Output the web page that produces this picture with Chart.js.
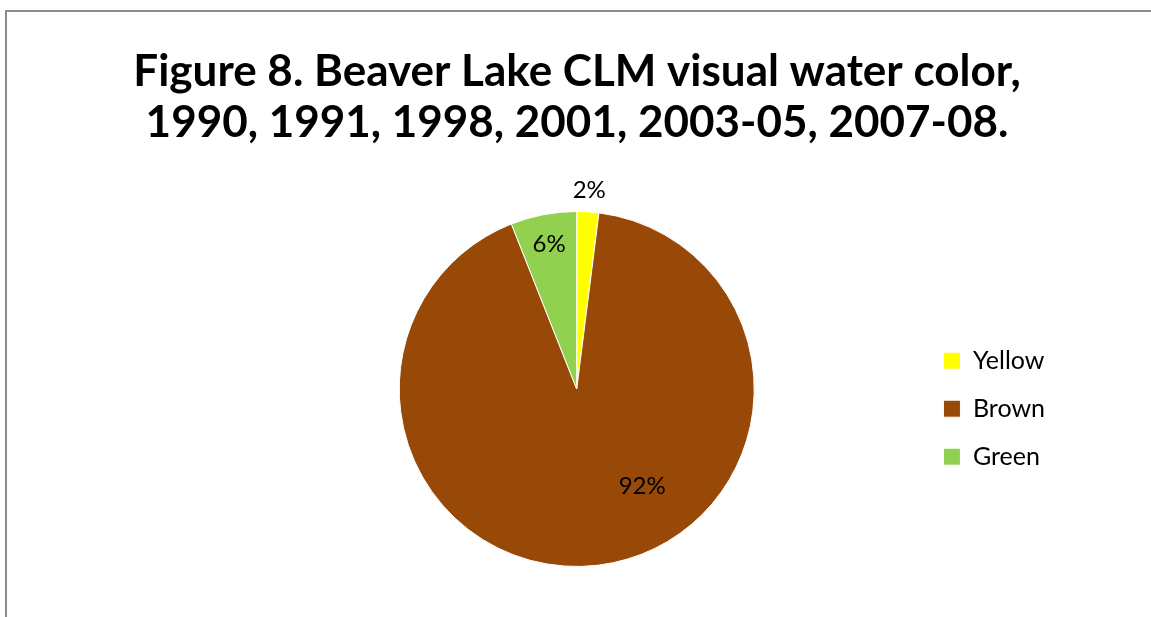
<!DOCTYPE html>
<html>
<head>
<meta charset="utf-8">
<script src="https://cdn.jsdelivr.net/npm/chart.js@4"></script>
<style>
  html, body { margin: 0; padding: 0; background: #fff; }
  #wrap { position: relative; width: 1151px; height: 617px; }
</style>
</head>
<body>
<div id="wrap"><canvas id="pieCanvas"></canvas></div>
<script>
var categories = ["Yellow", "Brown", "Green"];
var shares = [2, 92, 6];
var sliceColors = ["#FFFF00", "#984807", "#92D050"];
var titleLines = ["Figure 8. Beaver Lake CLM visual water color,", "1990, 1991, 1998, 2001, 2003-05, 2007-08."];

// where each percent label sits: fraction of radius, optional fixed angle (deg clockwise from top)
var labelSpots = [{ r: 1.12 }, { r: 0.66, deg: 146 }, { r: 0.83 }];

var frameBorder = {
    id: 'frameBorder',
    beforeDraw: function (chart) {
        var ctx = chart.ctx;
        ctx.save();
        ctx.strokeStyle = '#8c8c8c';
        ctx.lineWidth = 2;
        ctx.beginPath();
        ctx.moveTo(6, chart.height);
        ctx.lineTo(6, 11);
        ctx.lineTo(chart.width, 11);
        ctx.stroke();
        ctx.restore();
    }
};

// title centred on the whole canvas (built-in title would follow the layout padding)
var fullTitle = {
    id: 'fullTitle',
    afterDraw: function (chart) {
        var ctx = chart.ctx;
        ctx.save();
        ctx.font = 'bold 44px Lato';
        ctx.fillStyle = '#000';
        ctx.textAlign = 'center';
        ctx.textBaseline = 'middle';
        titleLines.forEach(function (line, i) {
            ctx.fillText(line, 577, 72 + i * 51);
        });
        ctx.restore();
    }
};

var pctLabels = {
    id: 'pctLabels',
    afterDatasetsDraw: function (chart) {
        var ctx = chart.ctx;
        var arcs = chart.getDatasetMeta(0).data;
        ctx.save();
        ctx.font = '24px Lato';
        ctx.fillStyle = '#000';
        ctx.textAlign = 'center';
        ctx.textBaseline = 'middle';
        arcs.forEach(function (arc, i) {
            var spot = labelSpots[i];
            var ang = (arc.startAngle + arc.endAngle) / 2;
            if (spot.deg !== undefined) ang = spot.deg * Math.PI / 180 - Math.PI / 2;
            var rr = arc.outerRadius * spot.r;
            ctx.fillText(shares[i] + '%', arc.x + Math.cos(ang) * rr, arc.y + Math.sin(ang) * rr);
        });
        ctx.restore();
    }
};

var ctx = document.getElementById('pieCanvas').getContext('2d');
var pieChart = new Chart(ctx, {
    type: 'pie',
    data: {
        labels: categories,
        datasets: [{
            data: shares,
            backgroundColor: sliceColors,
            borderColor: '#ffffff',
            borderWidth: 1
        }]
    },
    options: {
        responsive: true,
        maintainAspectRatio: false,
        animation: false,
        layout: { padding: { left: 233, right: 96, top: 211, bottom: 50 } },
        plugins: {
            title: { display: false },
            legend: {
                position: 'right',
                title: { display: true, text: ' ', padding: { top: 25, bottom: 0 }, font: { size: 12 } },
                labels: {
                    color: '#000',
                    font: { family: 'Lato', size: 25 },
                    boxWidth: 17,
                    boxHeight: 17,
                    padding: 23
                }
            },
            tooltip: { enabled: false }
        }
    },
    plugins: [frameBorder, fullTitle, pctLabels]
});
</script>
</body>
</html>
